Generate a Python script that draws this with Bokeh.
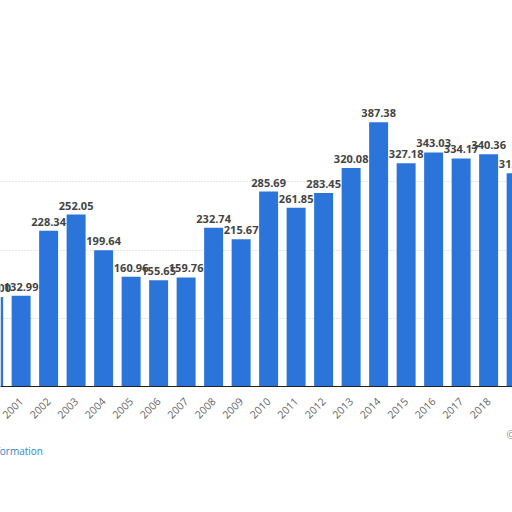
from bokeh.plotting import figure
from bokeh.models import ColumnDataSource, Range1d, FixedTicker, Title
from bokeh.core.properties import value
from bokeh.embed import file_html
from bokeh.resources import INLINE
import math

years = [2000, 2001, 2002, 2003, 2004, 2005, 2006, 2007, 2008, 2009,
         2010, 2011, 2012, 2013, 2014, 2015, 2016, 2017, 2018, 2019]
values = [131.0, 132.99, 228.34, 252.05, 199.64, 160.96, 155.65, 159.76, 232.74, 215.67,
          285.69, 261.85, 283.45, 320.08, 387.38, 327.18, 343.03, 334.17, 340.36, 312.63]
labels = ["%.2f" % v for v in values]
grid_ticks = [100, 200, 300]

src = ColumnDataSource(dict(year=years, val=values, lab=labels))

p = figure(width=512, height=512, output_backend="svg", toolbar_location=None,
           x_range=Range1d(2000.25, 2018.868), y_range=Range1d(0, 565.7),
           min_border_left=0, min_border_right=0, min_border_top=0, min_border_bottom=126)
p.outline_line_color = None
p.background_fill_color = "white"

p.vbar(x="year", top="val", width=0.69, source=src, fill_color="#2b74d9", line_color=None)
p.text(x="year", y="val", text="lab", source=src, y_offset=-5,
       text_align="center", text_baseline="bottom",
       text_font=value("Open Sans"), text_font_style="bold",
       text_font_size="11px", text_color="#444444")

p.yaxis.visible = False
p.ygrid.ticker = FixedTicker(ticks=grid_ticks)
p.ygrid.grid_line_color = "#cccccc"
p.ygrid.grid_line_dash = "1 2"
p.xgrid.visible = False

p.xaxis.ticker = FixedTicker(ticks=years)
p.xaxis.major_label_orientation = math.pi / 4
p.xaxis.major_label_text_font = "Open Sans"
p.xaxis.major_label_text_font_size = "10.5px"
p.xaxis.major_label_text_color = "#666666"
p.xaxis.major_label_standoff = 7
p.xaxis.major_tick_line_color = None
p.xaxis.minor_tick_line_color = None
p.xaxis.axis_line_color = "#222222"
p.xaxis.axis_line_width = 1

t1 = Title(text="© Statista 2021", align="left", offset=506, standoff=0,
           text_font="Open Sans", text_font_size="10px", text_font_style="normal",
           text_color="#888888")
t2 = Title(text="Additional Information", align="left", offset=-63, standoff=1,
           text_font="Open Sans", text_font_size="10px", text_font_style="normal",
           text_color="#2f86c9")
p.add_layout(t1, "below")
p.add_layout(t2, "below")

open("out.html", "w").write(file_html(p, INLINE))
